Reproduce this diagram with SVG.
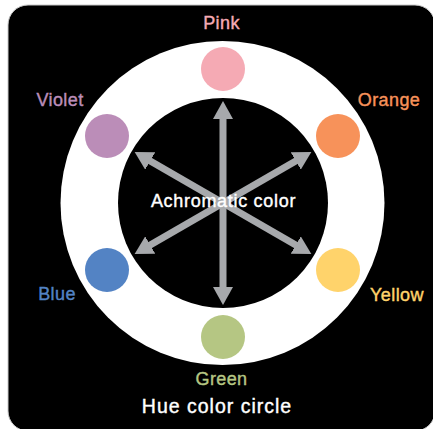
<svg xmlns="http://www.w3.org/2000/svg" width="433" height="429" viewBox="0 0 433 429">
  <style>
    .lbl { font-family: "Liberation Sans", Arial, sans-serif; font-size: 18px; text-anchor: middle; letter-spacing: 0.4px; stroke-width: 0.4; }
    .big { font-family: "Liberation Sans", Arial, sans-serif; fill: #ffffff; stroke: #ffffff; stroke-width: 0.4; text-anchor: middle; }
    .arrow { stroke: #A7A9AC; stroke-width: 7; fill: none; marker-start: url(#head); marker-end: url(#head); }
  </style>
  <defs>
    <marker id="head" markerUnits="userSpaceOnUse" markerWidth="18" markerHeight="20" viewBox="0 -10 18 20" refX="8" refY="0" orient="auto-start-reverse">
      <path d="M0,-10 L18,0 L0,10 Z" fill="#A7A9AC"/>
    </marker>
  </defs>
  <rect x="0" y="0" width="433" height="429" fill="#ffffff"/>
  <rect id="panel" x="8" y="5" width="427" height="426" rx="20" ry="20" fill="#000000" stroke="#c8c8c8" stroke-width="1"/>

  <g id="ring">
    <circle cx="222.5" cy="203" r="162" fill="#ffffff"/>
    <circle cx="223" cy="203" r="105" fill="#000000"/>
  </g>

  <g id="connectors">
    <line class="arrow" x1="223" y1="111" x2="223" y2="295"/>
    <line class="arrow" x1="143.3" y1="157" x2="302.7" y2="249"/>
    <line class="arrow" x1="302.7" y1="157" x2="143.3" y2="249"/>
  </g>

  <g id="achromatic">
    <text class="big" x="223.5" y="207" font-size="18" letter-spacing="0.7">Achromatic color</text>
  </g>

  <g id="pink">
    <circle cx="223" cy="69" r="22" fill="#F5AAB4"/>
    <text class="lbl" x="221.5" y="29" fill="#F5AAB4" stroke="#F5AAB4">Pink</text>
  </g>
  <g id="orange">
    <circle cx="338" cy="136" r="22" fill="#F7925A"/>
    <text class="lbl" x="389" y="106" fill="#F7925A" stroke="#F7925A">Orange</text>
  </g>
  <g id="yellow">
    <circle cx="338" cy="270" r="22" fill="#FFD36B"/>
    <text class="lbl" x="397" y="301" fill="#FFD36B" stroke="#FFD36B">Yellow</text>
  </g>
  <g id="green">
    <circle cx="223" cy="337" r="22" fill="#B5C683"/>
    <text class="lbl" x="221.5" y="385" fill="#B5C683" stroke="#B5C683">Green</text>
  </g>
  <g id="blue">
    <circle cx="107" cy="270" r="22" fill="#5383C4"/>
    <text class="lbl" x="57" y="300" fill="#5383C4" stroke="#5383C4">Blue</text>
  </g>
  <g id="violet">
    <circle cx="107" cy="136" r="22" fill="#BB8DB8"/>
    <text class="lbl" x="60" y="106" fill="#BB8DB8" stroke="#BB8DB8">Violet</text>
  </g>

  <g id="title">
    <text class="big" x="217" y="413" font-size="19.5" letter-spacing="1">Hue color circle</text>
  </g>
</svg>
